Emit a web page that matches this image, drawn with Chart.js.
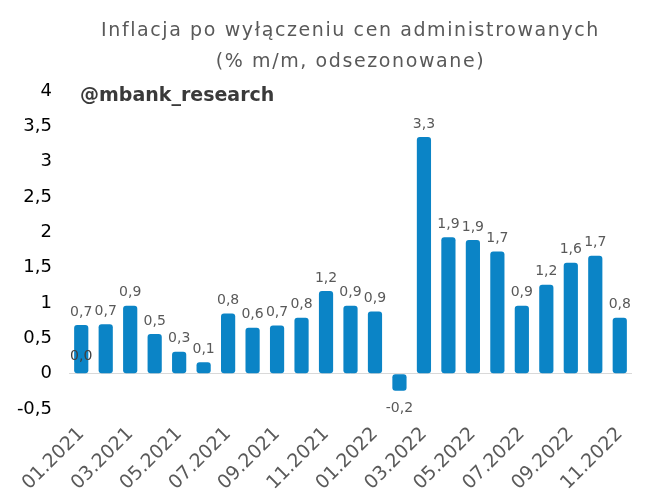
<!DOCTYPE html>
<html>
<head>
<meta charset="utf-8">
<script src="https://cdn.jsdelivr.net/npm/chart.js@4"></script>
<style>
  html, body { margin: 0; padding: 0; background: #fff; }
  #wrap { width: 655px; height: 504px; }
</style>
</head>
<body>
<div id="wrap"><canvas id="myChart" width="655" height="504"></canvas></div>
<script>
const months = [
    "01.2021", "02.2021", "03.2021", "04.2021", "05.2021", "06.2021",
    "07.2021", "08.2021", "09.2021", "10.2021", "11.2021", "12.2021",
    "01.2022", "02.2022", "03.2022", "04.2022", "05.2022", "06.2022",
    "07.2022", "08.2022", "09.2022", "10.2022", "11.2022",
];
const inflation = [
    0.69, 0.70, 0.96, 0.56, 0.31, 0.16, 0.85, 0.65, 0.68, 0.79, 1.17, 0.96,
    0.88, -0.24, 3.35, 1.93, 1.89, 1.73, 0.96, 1.26, 1.57, 1.67, 0.79,
];
// labels as printed on the chart (rounded by the source)
const valueLabels = [
    "0,7", "0,7", "0,9", "0,5", "0,3", "0,1", "0,8", "0,6", "0,7", "0,8", "1,2", "0,9",
    "0,9", "-0,2", "3,3", "1,9", "1,9", "1,7", "0,9", "1,2", "1,6", "1,7", "0,8",
];
const yTicks = [-0.5, 0, 0.5, 1, 1.5, 2, 2.5, 3, 3.5, 4];
const titleLines = ["Inflacja po wyłączeniu cen administrowanych", "(% m/m, odsezonowane)"];
const watermark = "@mbank_research";

const fmt = (v) => String(v).replace(".", ",");

// value labels, title and watermark
const decorPlugin = {
    id: "decor",
    afterDatasetsDraw(chart) {
        const ctx = chart.ctx;
        const meta = chart.getDatasetMeta(0);
        ctx.save();
        ctx.font = "14px 'DejaVu Sans'";
        ctx.fillStyle = "#595959";
        ctx.textAlign = "center";
        meta.data.forEach((bar, i) => {
            const v = inflation[i];
            if (v >= 0) {
                ctx.textBaseline = "bottom";
                ctx.fillText(valueLabels[i], bar.x, bar.y - 6);
            } else {
                ctx.textBaseline = "top";
                ctx.fillText(valueLabels[i], bar.x, bar.y + 11);
            }
        });
        // stray zero label sitting on the first bar
        ctx.fillStyle = "#404040";
        ctx.textBaseline = "middle";
        ctx.fillText("0,0", meta.data[0].x, chart.scales.y.getPixelForValue(0.25));

        const cx = (chart.chartArea.left + chart.chartArea.right) / 2;
        ctx.font = "19px 'DejaVu Sans'";
        ctx.letterSpacing = "1.6px";
        ctx.fillStyle = "#595959";
        ctx.textBaseline = "alphabetic";
        ctx.fillText(titleLines[0], cx, 36);
        ctx.fillText(titleLines[1], cx, 67);
        ctx.letterSpacing = "0px";

        ctx.font = "bold 19px 'DejaVu Sans'";
        ctx.fillStyle = "#3a3a3a";
        ctx.textAlign = "left";
        ctx.fillText(watermark, 80, 101);
        ctx.restore();
    },
};

new Chart(document.getElementById("myChart").getContext("2d"), {
    type: "bar",
    data: {
        labels: months,
        datasets: [
            {
                label: "Inflacja",
                data: inflation,
                backgroundColor: "#0B84C6",
                borderRadius: 3,
                borderSkipped: false,
                categoryPercentage: 1,
                barPercentage: 0.58,
            },
        ],
    },
    options: {
        responsive: false,
        animation: false,
        layout: { padding: { top: 91, right: 23, left: 0, bottom: 0 } },
        plugins: {
            legend: { display: false },
            tooltip: { enabled: false },
        },
        scales: {
            x: {
                offset: true,
                grid: { display: false },
                border: { display: false },
                ticks: {
                    autoSkip: false,
                    minRotation: 45,
                    maxRotation: 45,
                    color: "#595959",
                    font: { family: "DejaVu Sans", size: 19 },
                    padding: 6,
                    callback: (v, i) => (i % 2 === 0 ? months[i] : ""),
                },
                afterFit: (s) => { s.height = 95; },
            },
            y: {
                min: -0.5,
                max: 4,
                border: { display: false },
                grid: {
                    drawTicks: false,
                    color: (c) => (c.tick && c.tick.value === 0 ? "#d9d9d9" : "rgba(0,0,0,0)"),
                },
                afterBuildTicks: (s) => { s.ticks = yTicks.map((v) => ({ value: v })); },
                ticks: {
                    color: "#000",
                    font: { family: "DejaVu Sans", size: 18 },
                    padding: 17,
                    callback: (v) => fmt(v),
                },
                afterFit: (s) => { s.width = 69; },
            },
        },
    },
    plugins: [decorPlugin],
});
</script>
</body>
</html>
